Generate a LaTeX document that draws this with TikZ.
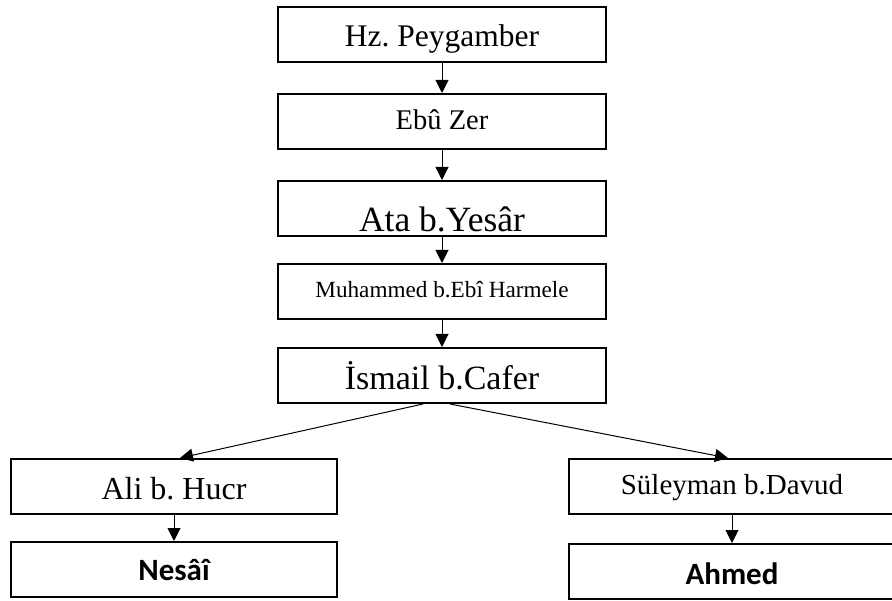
\documentclass[tikz,border=0pt]{standalone}
\usepackage{fontspec}
\setmainfont{Liberation Serif}
\newfontfamily\calfont{Carlito}
\usepackage{tikz}
\usetikzlibrary{arrows.meta,positioning}
\frenchspacing
\tikzset{
  narrator/.style={draw,line width=1.6pt,minimum width=326.4pt,minimum height=55.4pt,inner sep=0pt,text depth=0pt},
  collector/.style={narrator,font=\calfont\bfseries\fontsize{31}{37}\selectfont},
  chain/.style={
    x=1pt,y=1pt,
    every edge/.style={draw,line width=1pt,-{Triangle[length=13pt,width=13pt]}}
  }
}
\newcommand{\fsz}[1]{\fontsize{#1}{#1}\selectfont}

\begin{document}
\begin{tikzpicture}[chain]
      \useasboundingbox (0,0) rectangle (892,-601);
      \node[narrator,minimum width=328.4pt,font=\fsz{31.5},text height=25pt] (hz) at (442,-34.5) {Hz. Peygamber};
      \node[narrator,minimum width=328.4pt,font=\fsz{28.5},text height=15.6pt] (ebu) [below=30pt of hz] {Eb\^u Zer};
      \node[narrator,minimum width=328.4pt,font=\fsz{35.5},text height=47pt] (ata) [below=30pt of ebu] {Ata b.Yes\^ar};
      \node[narrator,minimum width=328.4pt,font=\fsz{23.2},text height=11.6pt] (muh) [below=26pt of ata] {Muhammed b.Eb\^\i{} Harmele};
      \node[narrator,minimum width=328.4pt,font=\fsz{34},text height=29pt] (ism) [below=27pt of muh] {İsmail b.Cafer};
      \node[narrator,font=\fsz{32},text height=25.6pt] (ali) [below left=54pt and -61pt of ism] {Ali b. Hucr};
      \node[narrator,font=\fsz{29},text height=15.6pt] (sul) [below right=54pt and -39pt of ism] {Süleyman b.Davud};
      \node[collector,text height=21pt] (nes) [below=26pt of ali] {Nes\^a\^\i};
      \node[collector,text height=25.6pt] (ahm) [below=28pt of sul] {Ahmed};
      \path
      (hz) edge (ebu)
      (ebu) edge (ata)
      (ata) edge (muh)
      (muh) edge (ism)
      ([xshift=-19pt]ism.south) edge ([xshift=6pt]ali.north)
      ([xshift=8pt]ism.south) edge ([xshift=-4pt]sul.north)
      (ali) edge (nes)
      (sul) edge (ahm)
      ;
    \end{tikzpicture}
\end{document}
